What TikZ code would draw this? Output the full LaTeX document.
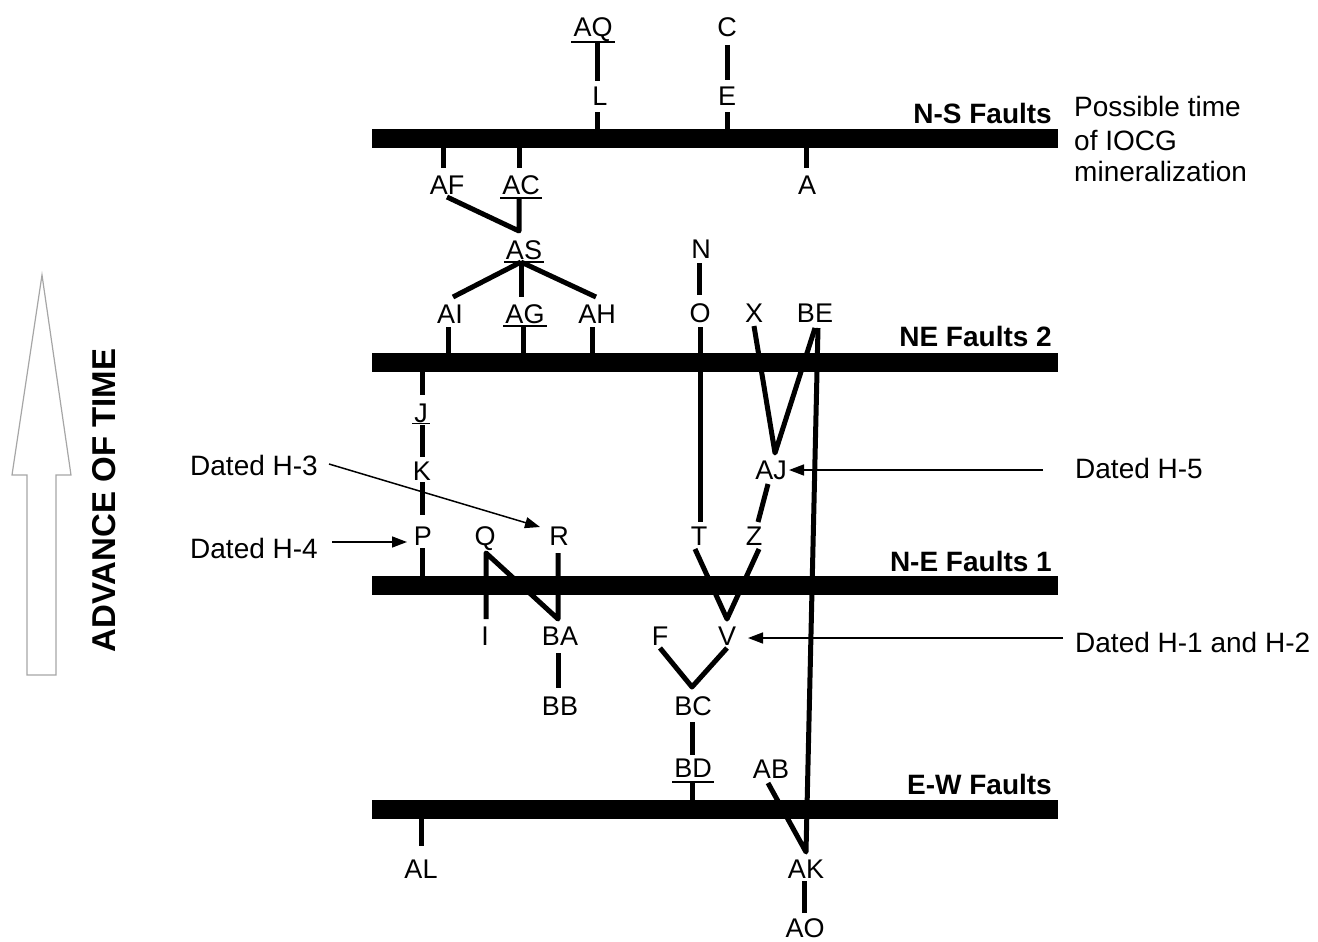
\documentclass[tikz,border=0pt]{standalone}
\usepackage{fontspec}
\setmainfont{Liberation Sans}
\usetikzlibrary{arrows.meta}
\tikzset{
  bar/.style={line width=19pt},
  conn/.style={line width=5pt, line join=round},
  ptr/.style={line width=1.5pt, -{Triangle[length=15pt,width=11pt]}},
  lab/.style={anchor=base, inner sep=0pt, font=\fontsize{27}{30}\selectfont},
  note/.style={anchor=base west, inner sep=0pt, font=\fontsize{28}{32}\selectfont},
  fault/.style={anchor=base east, inner sep=0pt, font=\fontsize{28}{32}\selectfont\bfseries},
  ulline/.style={line width=1.5pt}
}
\newcommand{\ul}[2]{\draw[ulline] ([xshift=-2pt,yshift=-#2]#1.base west) -- ([xshift=2pt,yshift=-#2]#1.base east);}
\begin{document}
\begin{tikzpicture}[x=1pt,y=-1pt]
\path[use as bounding box] (0,0) rectangle (1318,942);

% big arrow
\draw[gray!70, line width=1.2pt, line join=miter] (27,675) -- (27,475) -- (12,475) -- (42,275) -- (71,475) -- (56,475) -- (56,675) -- cycle;
\node[anchor=base, inner sep=0pt, rotate=90, font=\fontsize{33}{36}\selectfont\bfseries] (adv) at (115,500.5) {ADVANCE OF TIME};

% fault bars
\coordinate (b1w) at (372,138.5); \coordinate (b1e) at (1058,138.5);
\coordinate (b2w) at (372,362.5); \coordinate (b2e) at (1058,362.5);
\coordinate (b3w) at (372,585.5); \coordinate (b3e) at (1058,585.5);
\coordinate (b4w) at (372,809.5); \coordinate (b4e) at (1058,809.5);
\draw[bar] (b1w) -- (b1e);
\draw[bar] (b2w) -- (b2e);
\draw[bar] (b3w) -- (b3e);
\draw[bar] (b4w) -- (b4e);

\node[fault] (fNS) at (1052,123) {N-S Faults};
\node[fault] (fNE2) at (1052,346) {NE Faults 2};
\node[fault] (fNE1) at (1052,571) {N-E Faults 1};
\node[fault] (fEW) at (1052,794) {E-W Faults};

\node[note] (pos1) at (1074,117) {Possible time};
\node[note] (pos2) at (1074,150) {of IOCG};
\node[note] (pos3) at (1074,181) {mineralization};

% labels
\node[lab] (AQ) at (593,37) {AQ}; \ul{AQ}{5pt}
\node[lab] (C) at (727,37) {C};
\node[lab] (L) at (600,106) {L};
\node[lab] (E) at (727,106) {E};
\node[lab] (AF) at (447,194) {AF};
\node[lab] (AC) at (521,194) {AC}; \ul{AC}{4pt}
\node[lab] (A) at (807,194) {A};
\node[lab] (AS) at (524,259) {AS}; \ul{AS}{3pt}
\node[lab] (AI) at (450,323) {AI};
\node[lab] (AG) at (525,323) {AG}; \ul{AG}{3pt}
\node[lab] (AH) at (597,323) {AH};
\node[lab] (N) at (701,258) {N};
\node[lab] (O) at (700,322) {O};
\node[lab] (X) at (754,322) {X};
\node[lab] (BE) at (815,322) {BE};
\node[lab] (J) at (421,422) {J}; \ul{J}{1.5pt}
\node[lab] (K) at (422,480) {K};
\node[lab] (P) at (423,545) {P};
\node[lab] (AJ) at (771,479) {AJ};
\node[lab] (Q) at (485,545) {Q};
\node[lab] (R) at (559,545) {R};
\node[lab] (T) at (699,545) {T};
\node[lab] (Z) at (754,545) {Z};
\node[lab] (I) at (485,645) {I};
\node[lab] (BA) at (560,645) {BA};
\node[lab] (F) at (660,645) {F};
\node[lab] (V) at (727,645) {V};
\node[lab] (BB) at (560,715) {BB};
\node[lab] (BC) at (693,715) {BC};
\node[lab] (BD) at (693,777) {BD}; \ul{BD}{5pt}
\node[lab] (AB) at (771,778) {AB};
\node[lab] (AK) at (806,878) {AK};
\node[lab] (AL) at (421,878) {AL};
\node[lab] (AO) at (805,937) {AO};

% connector end points
\coordinate (AQs) at (597,43);  \coordinate (Ln) at (597,81);
\coordinate (Ls) at (597,112);  \coordinate (b1L) at (597,129);
\coordinate (Cs) at (727,45);   \coordinate (En) at (727,80);
\coordinate (Es) at (727,112);  \coordinate (b1E) at (727,129);
\coordinate (b1AF) at (443,148); \coordinate (AFn) at (443,168);
\coordinate (b1AC) at (519,148); \coordinate (ACn) at (519,168);
\coordinate (b1A) at (806,148);  \coordinate (An) at (806,168);
\coordinate (AFs) at (447,197); \coordinate (ASv) at (519,231); \coordinate (ACs) at (519,199);
\coordinate (ASs) at (521,262);
\coordinate (AIn) at (453,297); \coordinate (AGn) at (521,297); \coordinate (AHn) at (596,297);
\coordinate (AIs) at (448,327); \coordinate (b2AI) at (448,353);
\coordinate (AGs) at (523,327); \coordinate (b2AG) at (523,353);
\coordinate (AHs) at (592,327); \coordinate (b2AH) at (592,353);
\coordinate (Ns) at (699,263); \coordinate (On) at (699,295);
\coordinate (Os) at (700,327); \coordinate (Tn) at (700,522);
\coordinate (Xs) at (754,326); \coordinate (AJv) at (775,453); \coordinate (BEs) at (815,328);
\coordinate (BEl) at (818,328); \coordinate (AKv) at (806,852); \coordinate (ABs) at (768,783);
\coordinate (AJs) at (768,484); \coordinate (Zn) at (758,522);
\coordinate (Ts) at (695,549); \coordinate (Vv) at (727,619); \coordinate (Zs) at (759,549);
\coordinate (b2J) at (422,372); \coordinate (Jn) at (422,395);
\coordinate (Js) at (422,425); \coordinate (Kn) at (422,457);
\coordinate (Ks) at (422,482); \coordinate (Pn) at (422,515);
\coordinate (Ps) at (422,548); \coordinate (b3P) at (422,576);
\coordinate (In) at (486,619); \coordinate (Qs) at (486,553); \coordinate (BAn) at (558,619); \coordinate (Rs) at (558,553);
\coordinate (BAs) at (558,653); \coordinate (BBn) at (558,688);
\coordinate (Fs) at (660,648); \coordinate (BCv) at (692,687); \coordinate (Vs) at (727,648);
\coordinate (BCs) at (692,722); \coordinate (BDn) at (692,755);
\coordinate (BDs) at (692,782); \coordinate (b4BD) at (692,800);
\coordinate (b4AL) at (421,819); \coordinate (ALn) at (421,846);
\coordinate (AKs) at (804,881); \coordinate (AOn) at (804,913);

% connectors
\draw[conn] (AQs) -- (Ln);
\draw[conn] (Ls) -- (b1L);
\draw[conn] (Cs) -- (En);
\draw[conn] (Es) -- (b1E);
\draw[conn] (b1AF) -- (AFn);
\draw[conn] (b1AC) -- (ACn);
\draw[conn] (b1A) -- (An);
\draw[conn] (AFs) -- (ASv) -- (ACs);
\draw[conn] (ASs) -- (AIn);
\draw[conn] (ASs) -- (AGn);
\draw[conn] (ASs) -- (AHn);
\draw[conn] (AIs) -- (b2AI);
\draw[conn] (AGs) -- (b2AG);
\draw[conn] (AHs) -- (b2AH);
\draw[conn] (Ns) -- (On);
\draw[conn] (Os) -- (Tn);
\draw[conn] (Xs) -- (AJv) -- (BEs);
\draw[conn] (BEl) -- (AKv) -- (ABs);
\draw[conn] (AJs) -- (Zn);
\draw[conn] (Ts) -- (Vv) -- (Zs);
\draw[conn] (b2J) -- (Jn);
\draw[conn] (Js) -- (Kn);
\draw[conn] (Ks) -- (Pn);
\draw[conn] (Ps) -- (b3P);
\draw[conn] (In) -- (Qs) -- (BAn) -- (Rs);
\draw[conn] (BAs) -- (BBn);
\draw[conn] (Fs) -- (BCv) -- (Vs);
\draw[conn] (BCs) -- (BDn);
\draw[conn] (BDs) -- (b4BD);
\draw[conn] (b4AL) -- (ALn);
\draw[conn] (AKs) -- (AOn);

% dated annotations
\node[note] (d3) at (190,475) {Dated H-3};
\node[note] (d4) at (190,558) {Dated H-4};
\node[note] (d5) at (1075,478) {Dated H-5};
\node[note] (d12) at (1075,652) {Dated H-1 and H-2};
\coordinate (d3s) at (329,464); \coordinate (d3t) at (540,527);
\coordinate (d4s) at (332,542); \coordinate (d4t) at (407,542);
\coordinate (d5s) at (1043,470); \coordinate (d5t) at (789,470);
\coordinate (d12s) at (1063,638); \coordinate (d12t) at (748,638);
\draw[ptr] (d3s) -- (d3t);
\draw[ptr] (d4s) -- (d4t);
\draw[ptr] (d5s) -- (d5t);
\draw[ptr] (d12s) -- (d12t);
\end{tikzpicture}
\end{document}
